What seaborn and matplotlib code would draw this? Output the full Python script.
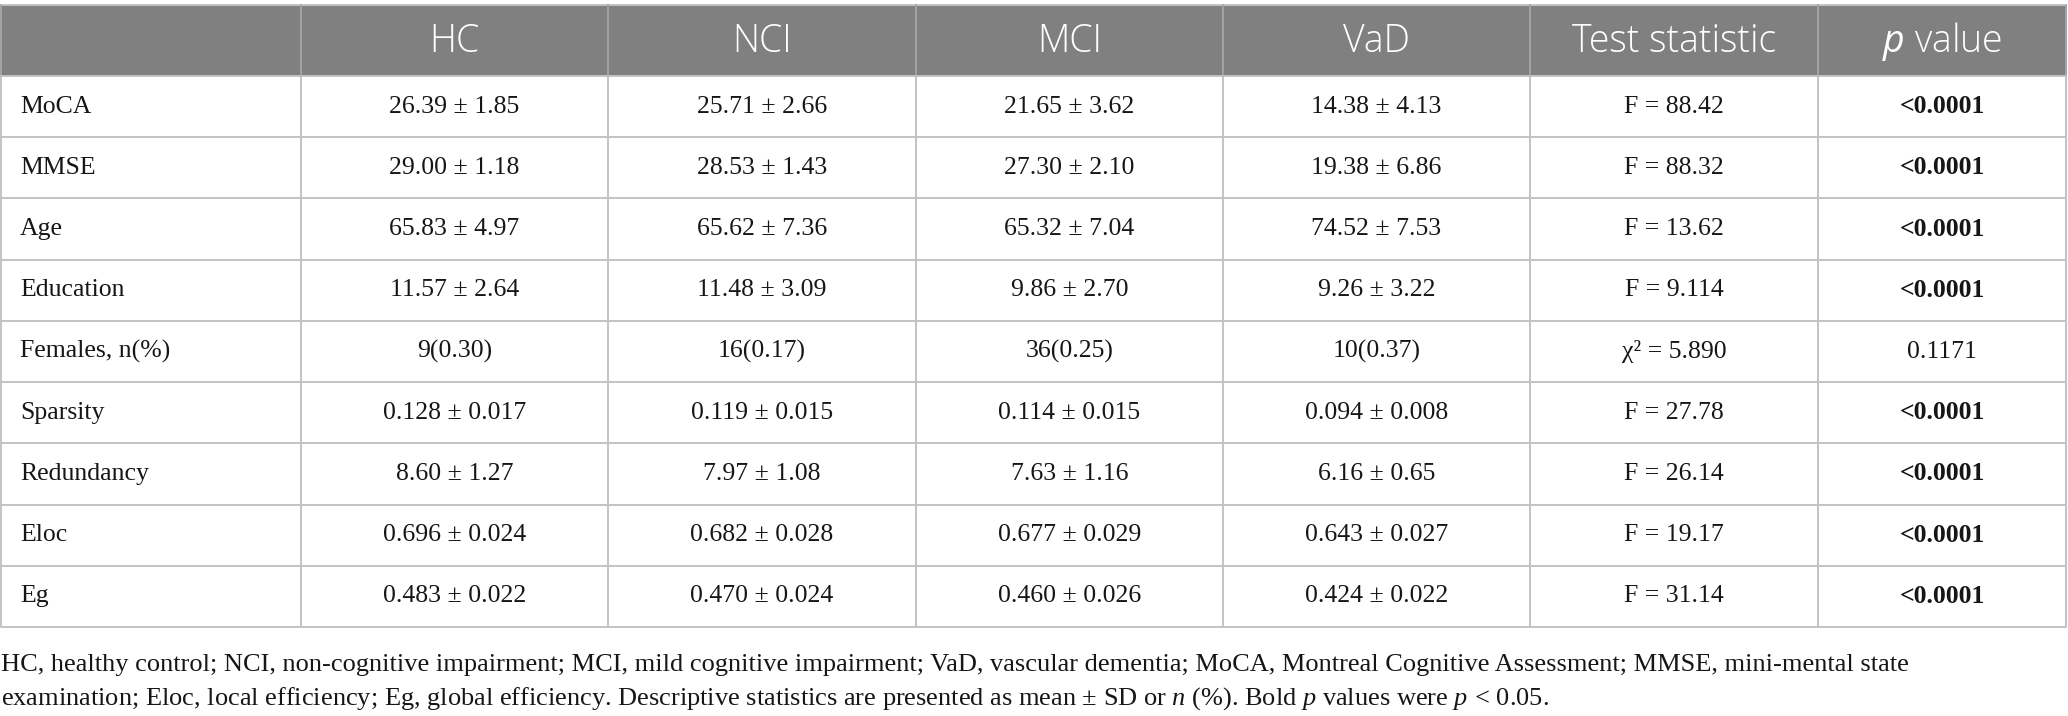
import matplotlib
matplotlib.use("Agg")
import matplotlib.pyplot as plt
import seaborn as sns

# ---------------- data ----------------
columns = ["HC", "NCI", "MCI", "VaD", "Test statistic", "$\\mathsf{p}$ value"]
variables = ["MoCA", "MMSE", "Age", "Education", "Females, n(%)", "Sparsity",
             "Redundancy", "Eloc", "Eg"]
hc = ["26.39 ± 1.85", "29.00 ± 1.18", "65.83 ± 4.97", "11.57 ± 2.64", "9(0.30)",
      "0.128 ± 0.017", "8.60 ± 1.27", "0.696 ± 0.024", "0.483 ± 0.022"]
nci = ["25.71 ± 2.66", "28.53 ± 1.43", "65.62 ± 7.36", "11.48 ± 3.09", "16(0.17)",
       "0.119 ± 0.015", "7.97 ± 1.08", "0.682 ± 0.028", "0.470 ± 0.024"]
mci = ["21.65 ± 3.62", "27.30 ± 2.10", "65.32 ± 7.04", "9.86 ± 2.70", "36(0.25)",
       "0.114 ± 0.015", "7.63 ± 1.16", "0.677 ± 0.029", "0.460 ± 0.026"]
vad = ["14.38 ± 4.13", "19.38 ± 6.86", "74.52 ± 7.53", "9.26 ± 3.22", "10(0.37)",
       "0.094 ± 0.008", "6.16 ± 0.65", "0.643 ± 0.027", "0.424 ± 0.022"]
test_stat = ["F = 88.42", "F = 88.32", "F = 13.62", "F = 9.114", "χ² = 5.890",
             "F = 27.78", "F = 26.14", "F = 19.17", "F = 31.14"]
p_values = ["<0.0001", "<0.0001", "<0.0001", "<0.0001", "0.1171",
            "<0.0001", "<0.0001", "<0.0001", "<0.0001"]
p_bold = [True, True, True, True, False, True, True, True, True]

footnote_1 = ("HC, healthy control; NCI, non-cognitive impairment; MCI, mild cognitive "
              "impairment; VaD, vascular dementia; MoCA, Montreal Cognitive Assessment; "
              "MMSE, mini-mental state")
footnote_2 = ("examination; Eloc, local efficiency; Eg, global efficiency. Descriptive "
              "statistics are presented as mean ± SD or $\\mathit{n}$ (%). Bold "
              "$\\mathit{p}$ values were $\\mathit{p}\\,{<}\\,0.05$.")

# ---------------- style ----------------
sns.set_theme(style="white")
plt.rcParams["font.family"] = ["Liberation Serif", "DejaVu Serif"]
plt.rcParams["mathtext.fontset"] = "custom"
plt.rcParams["mathtext.rm"] = "Liberation Serif"
plt.rcParams["mathtext.it"] = "Liberation Serif:italic"
plt.rcParams["mathtext.bf"] = "Liberation Serif:bold"
plt.rcParams["mathtext.sf"] = "Open Sans:italic"

W, H = 2068, 716
fig = plt.figure(figsize=(W / 100, H / 100), dpi=100)
ax = fig.add_axes([0, 0, 1, 1])
ax.set_xlim(0, W)
ax.set_ylim(H, 0)
ax.axis("off")

col_edges = [1, 301, 608, 916, 1223, 1530, 1818, 2066]
top, header_bottom = 5, 76
row_h = (627 - header_bottom) / len(variables)
row_edges = [header_bottom + i * row_h for i in range(len(variables) + 1)]
bottom = row_edges[-1]

line_col = "#c3c3c3"
header_bg = "#808080"
txt_col = "#161616"

# header background
ax.add_patch(plt.Rectangle((col_edges[0], top), col_edges[-1] - col_edges[0],
                           header_bottom - top, facecolor=header_bg,
                           edgecolor="none", zorder=1))
# horizontal lines
for y in [top] + row_edges:
    ax.plot([col_edges[0], col_edges[-1]], [y, y], color=line_col, lw=1.4,
            zorder=2, solid_capstyle="butt")
# vertical lines
for x in col_edges:
    ax.plot([x, x], [top, header_bottom], color="#a2a2a2", lw=1.4, zorder=2)
    ax.plot([x, x], [header_bottom, bottom], color=line_col, lw=1.4, zorder=2)

# header text
for j, name in enumerate(columns):
    cx = (col_edges[j + 1] + col_edges[j + 2]) / 2
    ax.text(cx, (top + header_bottom) / 2 + 1, name, ha="center", va="center",
            color="white", fontsize=27, fontweight="light",
            family=["Open Sans", "DejaVu Sans"], zorder=3)

# body text
body_fs = 18.5
data_cols = [hc, nci, mci, vad, test_stat]
for i, var in enumerate(variables):
    cy = (row_edges[i] + row_edges[i + 1]) / 2
    ax.text(col_edges[0] + 19, cy, var, ha="left", va="center", fontsize=body_fs,
            color=txt_col, zorder=3)
    for j, col in enumerate(data_cols):
        cx = (col_edges[j + 1] + col_edges[j + 2]) / 2
        ax.text(cx, cy, col[i], ha="center", va="center", fontsize=body_fs,
                color=txt_col, zorder=3)
    cx = (col_edges[6] + col_edges[7]) / 2
    ax.text(cx, cy, p_values[i], ha="center", va="center", fontsize=body_fs,
            color=txt_col, fontweight="bold" if p_bold[i] else "normal", zorder=3)

# footnotes
ax.text(col_edges[0], 665, footnote_1, ha="left", va="center", fontsize=19,
        color=txt_col)
ax.text(col_edges[0], 699, footnote_2, ha="left", va="center", fontsize=19,
        color=txt_col)

fig.savefig("out.png", dpi=100, facecolor="white")
